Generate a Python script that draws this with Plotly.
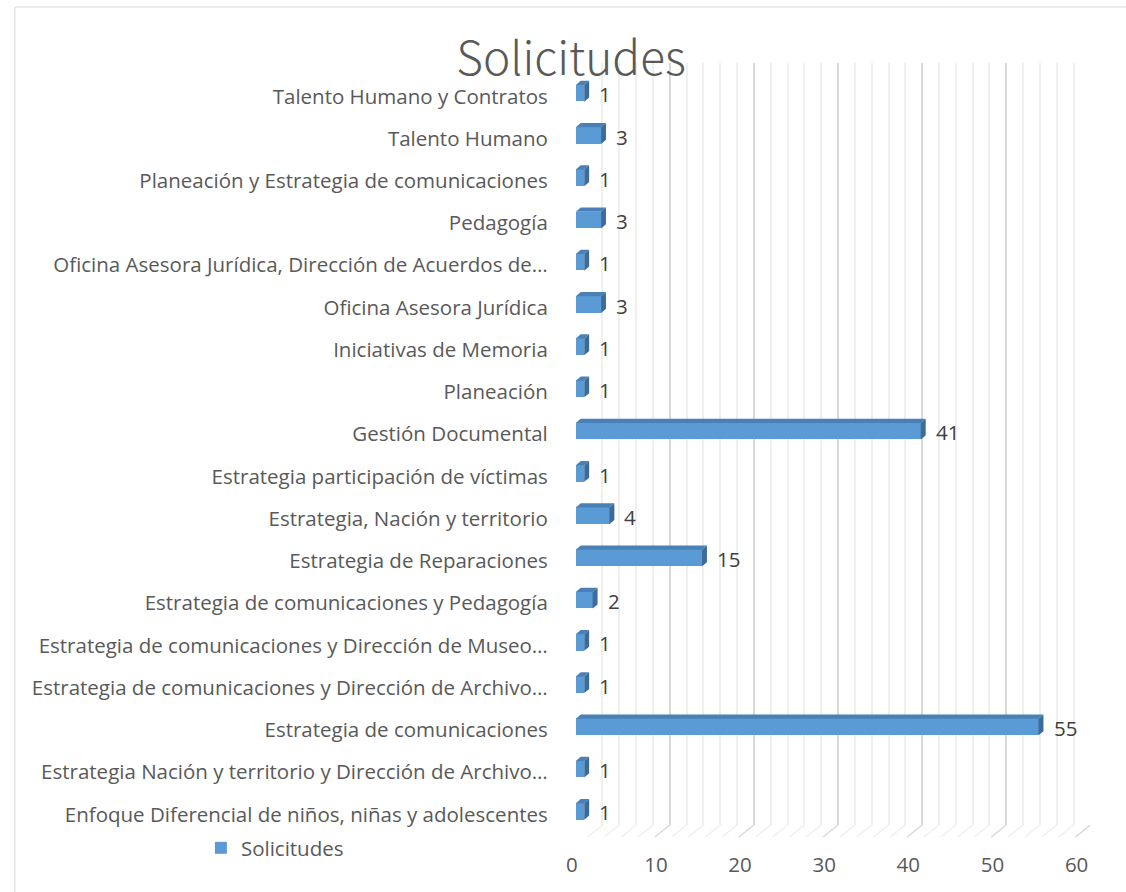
import plotly.graph_objects as go

categories = [
    "Enfoque Diferencial de niños, niñas y adolescentes",
    "Estrategia Nación y territorio y Dirección de Archivo…",
    "Estrategia de comunicaciones",
    "Estrategia de comunicaciones y Dirección de Archivo…",
    "Estrategia de comunicaciones y Dirección de Museo…",
    "Estrategia de comunicaciones y Pedagogía",
    "Estrategia de Reparaciones",
    "Estrategia, Nación y territorio",
    "Estrategia participación de víctimas",
    "Gestión Documental",
    "Planeación",
    "Iniciativas de Memoria",
    "Oficina Asesora Jurídica",
    "Oficina Asesora Jurídica, Dirección de Acuerdos de…",
    "Pedagogía",
    "Planeación y Estrategia de comunicaciones",
    "Talento Humano",
    "Talento Humano y Contratos",
]
values = [1, 1, 55, 1, 1, 2, 15, 4, 1, 41, 1, 1, 3, 1, 3, 1, 3, 1]
x_ticks = [0, 10, 20, 30, 40, 50, 60]
series_name = "Solicitudes"
title_text = "Solicitudes"

W, H = 1126, 892
FONT = "Open Sans"
TXT = "#595959"
FS = 20.5

def fx(px):
    return px / W

def fy(px):
    return 1 - px / H

# geometry (pixels)
back_l, back_r, back_t, back_b = 585, 1098, 63, 825
bar_l, bar_r = 575, 1088
cat_top, cat_bot = 72.2, 832.6
xmax = 60
ppu = (bar_r - bar_l) / xmax
depth_dx, depth_dy = 5, 4.2
bar_w = 0.395
half_px = bar_w * (cat_bot - cat_top) / len(categories) / 2

fig = go.Figure()
fig.add_trace(go.Bar(
    x=values, y=categories, orientation="h", width=bar_w,
    marker=dict(color="#5b9bd5", line=dict(width=0)),
    name=series_name, xaxis="x2", yaxis="y2", showlegend=True,
    hoverinfo="x+y",
))
# invisible trace for back-wall axes
fig.add_trace(go.Scatter(x=[0, xmax], y=[0, 1], mode="markers",
                         marker=dict(opacity=0), showlegend=False,
                         hoverinfo="skip", xaxis="x", yaxis="y"))

shapes = []
d = depth_dx / ppu
for c, v in zip(categories, values):
    # top face
    shapes.append(dict(
        type="path", xref="x2", yref="y2", ysizemode="pixel", yanchor=c,
        path=f"M 0,{half_px} L {v},{half_px} L {v + d},{half_px + depth_dy} L {d},{half_px + depth_dy} Z",
        fillcolor="#4a80b8", line=dict(width=0), layer="above"))
    # side face
    shapes.append(dict(
        type="path", xref="x2", yref="y2", ysizemode="pixel", yanchor=c,
        path=f"M {v},{-half_px} L {v},{half_px} L {v + d},{half_px + depth_dy} L {v + d},{-half_px + depth_dy} Z",
        fillcolor="#3b6b99", line=dict(width=0), layer="above"))

# floor diagonal lines
for t in range(0, xmax + 1, 2):
    major = t % 10 == 0
    shapes.append(dict(
        type="line", xref="x", yref="paper", xsizemode="pixel", xanchor=t,
        ysizemode="pixel", yanchor=fy(back_b), x0=0, x1=-15, y0=0, y1=-12,
        line=dict(color="#d9d9d9" if major else "#efefef", width=1.5), layer="below"))

# chart border
shapes.append(dict(type="rect", xref="paper", yref="paper",
                   x0=fx(5), x1=1.05, y0=-0.05, y1=fy(7),
                   line=dict(color="#d9d9d9", width=1), layer="below"))

annotations = []
for c, v in zip(categories, values):
    annotations.append(dict(
        x=v, y=c, xref="x2", yref="y2", text=str(v), showarrow=False,
        xanchor="left", xshift=13, yshift=-1,
        font=dict(family=FONT, size=FS, color="#404040")))

fig.update_layout(
    width=W, height=H, margin=dict(l=0, r=0, t=0, b=0),
    paper_bgcolor="white", plot_bgcolor="rgba(0,0,0,0)",
    title=dict(text=title_text, x=fx(571), xanchor="center", y=fy(59), yanchor="middle",
               font=dict(family="Noto Sans CJK SC", size=46, color=TXT, weight=300)),
    xaxis=dict(domain=[fx(back_l), fx(back_r)], range=[0, xmax], anchor="y",
               showgrid=True, dtick=10, gridcolor="#d9d9d9", gridwidth=1.5,
               minor=dict(dtick=2, showgrid=True, gridcolor="#efefef", gridwidth=1.5),
               showticklabels=False, zeroline=False, showline=False, ticks=""),
    yaxis=dict(domain=[fy(back_b), fy(back_t)], range=[0, 1], anchor="x",
               showgrid=False, showticklabels=False, zeroline=False, showline=False),
    xaxis2=dict(domain=[fx(bar_l), fx(bar_r)], range=[0, xmax], anchor="y2",
                tickvals=x_ticks, showgrid=False, zeroline=False, showline=False,
                ticks="", ticklabelstandoff=18, ticklabelshift=-4,
                tickfont=dict(family=FONT, size=FS, color=TXT)),
    yaxis2=dict(domain=[fy(cat_bot), fy(cat_top)], range=[-0.5, len(categories) - 0.5],
                anchor="x2", type="category", categoryorder="array", categoryarray=categories,
                showgrid=False, zeroline=False, showline=False, ticks="",
                ticklabelstandoff=27, ticklabelshift=3,
                tickfont=dict(family=FONT, size=FS, color=TXT)),
    showlegend=True,
    legend=dict(x=fx(194), y=fy(848), xanchor="left", yanchor="middle",
                orientation="h", bgcolor="rgba(0,0,0,0)",
                font=dict(family=FONT, size=FS, color=TXT)),
    shapes=shapes, annotations=annotations, bargap=0,
)

fig.write_html("out.html", config={"displayModeBar": False},
               post_script="document.body.style.margin='0';document.body.style.overflow='hidden';")
